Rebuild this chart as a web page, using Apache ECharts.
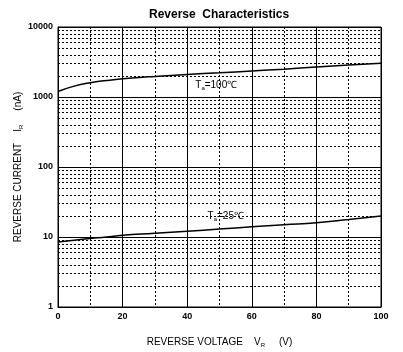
<!DOCTYPE html>
<html>
<head>
<meta charset="utf-8">
<script src="https://cdn.jsdelivr.net/npm/echarts@6/dist/echarts.min.js"></script>
<style>
  html, body { margin: 0; padding: 0; background: #fff; }
  #chart { width: 403px; height: 352px; }
</style>
</head>
<body>
<div id="chart"></div>
<script>
// reverse voltage (V)
const voltage = [0, 5, 10, 15, 20, 30, 40, 50, 60, 70, 80, 90, 100];
// reverse current (nA) at Ta = 100C
const current100 = [1200, 1430, 1600, 1720, 1820, 1970, 2100, 2220, 2350, 2500, 2680, 2860, 3030];
// reverse current (nA) at Ta = 25C
const current25 = [8.5, 9.0, 9.5, 10.0, 10.6, 11.3, 12.1, 13.0, 14.0, 15.0, 16.0, 17.8, 20.0];
// minor grid values on the log axis
const decades = [1, 10, 100, 1000];
const minorSteps = [2, 3, 4, 5, 6, 7, 8, 9];

const font = "Liberation Sans";
const black = "#000";
const dots = [2, 2];

function pairs(xs, ys) {
  return xs.map(function (x, i) { return [x, ys[i]]; });
}

let minorLines = [];
for (let d = 0; d < decades.length; d++) {
  for (let m = 0; m < minorSteps.length; m++) {
    minorLines.push({ yAxis: decades[d] * minorSteps[m] });
  }
}

const subRich = {
  t: { fontFamily: font, fontSize: 10, color: black },
  sub: { fontFamily: font, fontSize: 6, color: black, verticalAlign: "bottom", padding: [6, 0, 0, 0] }
};

let myChart = echarts.init(document.getElementById("chart"), null, { renderer: "canvas" });

let option = {
  animation: false,
  backgroundColor: "#fff",
  title: {
    text: "Reverse  Characteristics",
    left: 144,
    top: 4,
    textStyle: { fontFamily: font, fontSize: 12, fontWeight: "bold", color: black }
  },
  grid: {
    left: 58, right: 22, top: 27, bottom: 45,
    outerBoundsMode: "none",
    containLabel: false,
    show: true, borderColor: black, borderWidth: 1, backgroundColor: "transparent"
  },
  xAxis: {
    type: "value",
    min: 0, max: 100, interval: 20,
    name: "{t|REVERSE VOLTAGE    V}{sub|R}{t|     (V)}",
    nameLocation: "middle",
    nameGap: 29,
    nameMoveOverlap: false,
    nameTextStyle: { rich: subRich },
    axisLine: { lineStyle: { color: black, width: 1 } },
    axisTick: { show: false },
    axisLabel: { fontFamily: font, fontSize: 9, fontWeight: "bold", color: black, margin: 5 },
    splitLine: { show: true, lineStyle: { color: black, width: 1 } },
    minorTick: { show: false, splitNumber: 2 },
    minorSplitLine: { show: true, lineStyle: { color: black, width: 1, type: dots } }
  },
  yAxis: {
    type: "log",
    logBase: 10,
    min: 1, max: 10000,
    name: "{t|REVERSE CURRENT    I}{sub|R}{t|     (nA)}",
    nameLocation: "middle",
    nameGap: 34,
    nameMoveOverlap: false,
    nameTextStyle: { rich: subRich },
    axisLine: { show: true, lineStyle: { color: black, width: 1 } },
    axisTick: { show: false },
    axisLabel: {
      fontFamily: font, fontSize: 9, fontWeight: "bold", color: black, margin: 5,
      formatter: function (v) { return String(Math.round(v)); }
    },
    splitLine: { show: true, lineStyle: { color: black, width: 1 } }
  },
  series: [
    {
      type: "line",
      data: pairs(voltage, current100),
      smooth: true,
      symbol: "none",
      lineStyle: { color: black, width: 1.5 },
      markLine: {
        silent: true,
        symbol: ["none", "none"],
        label: { show: false },
        lineStyle: { color: black, width: 1, type: dots },
        data: minorLines
      },
      markPoint: {
        symbol: "circle",
        symbolSize: 0,
        label: {
          show: true,
          position: "right",
          distance: 0,
          formatter: "{t|T}{sub|a}{t|=100\u2103}",
          rich: subRich
        },
        data: [{ coord: [42.5, 1480] }]
      }
    },
    {
      type: "line",
      data: pairs(voltage, current25),
      smooth: true,
      symbol: "none",
      lineStyle: { color: black, width: 1.5 },
      markPoint: {
        symbol: "circle",
        symbolSize: 0,
        label: {
          show: true,
          position: "right",
          distance: 0,
          formatter: "{t|T}{sub|a}{t|=25\u2103}",
          rich: subRich
        },
        data: [{ coord: [46.3, 19.5] }]
      }
    }
  ]
};

if (option && typeof option === "object") {
  myChart.setOption(option);
}
window.addEventListener("resize", myChart.resize);
</script>
</body>
</html>
